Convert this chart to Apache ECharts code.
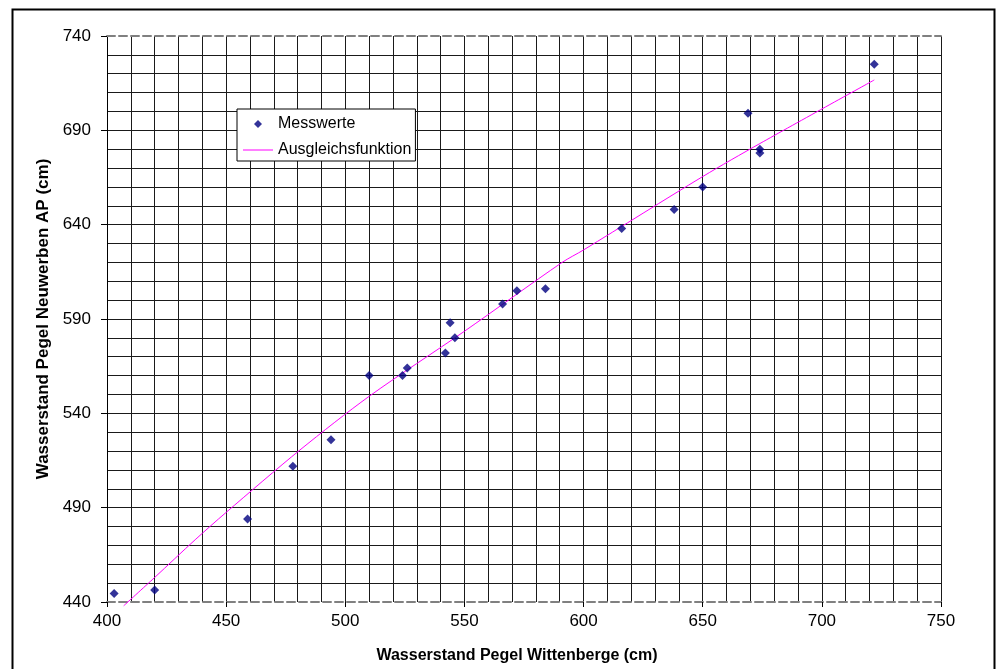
<!DOCTYPE html>
<html>
<head>
<meta charset="utf-8">
<script src="https://cdn.jsdelivr.net/npm/echarts@6/dist/echarts.min.js"></script>
<style>
html,body{margin:0;padding:0;background:#fff;}
#chart{width:999px;height:669px;}
</style>
</head>
<body>
<div id="chart"></div>
<script>
// Measured points (x: Wittenberge, y: Neuwerben)
const messX = [403, 420, 459, 478, 494, 510, 524, 526, 542, 544, 546, 566, 572, 584, 616, 638, 650, 669, 674, 674, 722];
const messY = [444.5, 446.3, 484, 512, 526, 560, 560, 564, 572, 588, 580, 598, 605, 606, 638, 648, 660, 699, 680, 678, 725];
// Trend line points
const fitX = [407, 420, 437, 450, 481, 510, 550, 591, 600, 650, 674, 722];
const fitY = [438, 453, 473, 487.5, 520.6, 549, 583.5, 620, 626.6, 665.5, 683, 716.7];
const xTicks = [400, 450, 500, 550, 600, 650, 700, 750];
const yTicks = [440, 490, 540, 590, 640, 690, 740];

const font = 'Liberation Sans, Arial, sans-serif';
const chart = echarts.init(document.getElementById('chart'), null, {renderer: 'canvas'});

const option = {
  animation: false,
  backgroundColor: '#fff',
  grid: {left: 107, top: 36, right: 58, bottom: 67},
  graphic: [{
    type: 'rect', left: 10, top: 7, z: -10,
    shape: {width: 982, height: 700},
    style: {fill: 'none', stroke: '#000', lineWidth: 2}
  }],
  legend: {
    left: 237, top: 109, orient: 'vertical',
    backgroundColor: '#fff', borderColor: '#000', borderWidth: 1,
    padding: [7, 4, 3, 6], itemGap: 10, itemWidth: 30, itemHeight: 8,
    symbolKeepAspect: true,
    textStyle: {fontSize: 16, fontFamily: font, color: '#000'},
    data: [
      {name: 'Messwerte', icon: 'path://M0,0L0.01,0M30,8L29.99,8M15,0L19,4L15,8L11,4Z'},
      {name: 'Ausgleichsfunktion', icon: 'path://M0,0L0.01,0M30,8L29.99,8M0,3.4L30,3.4L30,4.6L0,4.6Z'}
    ]
  },
  xAxis: [{
    type: 'value', min: xTicks[0], max: xTicks[xTicks.length - 1], interval: 50,
    name: 'Wasserstand Pegel Wittenberge (cm)', nameLocation: 'middle', nameGap: 46,
    nameTextStyle: {fontSize: 16, fontWeight: 'bold', fontFamily: font, color: '#000', padding: [0, 14, 0, 0]},
    axisLine: {show: true, onZero: false, lineStyle: {color: '#808080', width: 2, type: [8, 4]}},
    axisTick: {show: true, length: 5, lineStyle: {color: '#000'}},
    axisLabel: {fontSize: 17, fontFamily: font, color: '#000', margin: 11},
    splitLine: {show: true, lineStyle: {color: '#1a1a1a', width: 1}},
    minorTick: {show: false, splitNumber: 5},
    minorSplitLine: {show: true, lineStyle: {color: '#1a1a1a', width: 1}}
  }, {
    type: 'value', position: 'top', min: xTicks[0], max: xTicks[xTicks.length - 1], interval: 50,
    axisLine: {show: true, onZero: false, lineStyle: {color: '#808080', width: 2, type: [8, 4]}},
    axisTick: {show: false}, axisLabel: {show: false}, splitLine: {show: false}
  }],
  yAxis: {
    type: 'value', min: yTicks[0], max: yTicks[yTicks.length - 1], interval: 50,
    name: 'Wasserstand Pegel Neuwerben AP (cm)', nameLocation: 'middle', nameGap: 53,
    nameTextStyle: {fontSize: 17, fontWeight: 'bold', fontFamily: font, color: '#000'},
    axisLine: {show: true, onZero: false, lineStyle: {color: '#000', width: 1}},
    axisTick: {show: true, length: 6, lineStyle: {color: '#000'}},
    axisLabel: {fontSize: 17, fontFamily: font, color: '#000', margin: 16},
    splitLine: {show: true, showMinLine: false, showMaxLine: false, lineStyle: {color: '#1a1a1a', width: 1}},
    minorTick: {show: false, splitNumber: 5},
    minorSplitLine: {show: true, lineStyle: {color: '#1a1a1a', width: 1}}
  },
  series: [{
    name: 'Messwerte', type: 'scatter', symbol: 'diamond', symbolSize: 9,
    itemStyle: {color: '#000080'}, z: 5,
    data: messX.map((x, i) => [x, messY[i]])
  }, {
    name: 'Ausgleichsfunktion', type: 'line', smooth: 0.3, symbol: 'none', showSymbol: false, clip: false,
    lineStyle: {color: '#ff00ff', width: 1}, itemStyle: {color: '#ff00ff'}, z: 4,
    data: fitX.map((x, i) => [x, fitY[i]])
  }]
};
chart.setOption(option);
</script>
</body>
</html>
